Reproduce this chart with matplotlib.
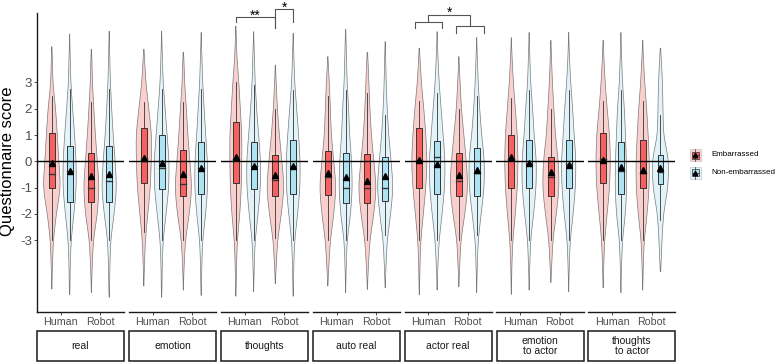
import numpy as np
import matplotlib
matplotlib.use('Agg')
import matplotlib.pyplot as plt
from matplotlib.patches import Rectangle, Polygon

plt.rcParams['font.family'] = ['Liberation Sans', 'DejaVu Sans']

# ---------------- data ----------------
facets = ['real', 'emotion', 'thoughts', 'auto real', 'actor real',
          'emotion\nto actor', 'thoughts\nto actor']
agents = ['Human', 'Robot']
groups = ['Embarrassed', 'Non-embarrassed']

# per facet: [Human-Emb, Human-NonEmb, Robot-Emb, Robot-NonEmb]
q1 = [[-1.00, -1.56, -1.56, -1.56],
      [-0.81, -1.06, -1.32, -1.25],
      [-0.81, -1.06, -1.32, -1.25],
      [-1.28, -1.57, -1.57, -1.51],
      [-1.00, -1.25, -1.32, -1.32],
      [-1.00, -1.00, -1.32, -1.00],
      [-0.81, -1.25, -1.00, -0.87]]
med = [[-0.48, -0.37, -1.00, -0.74],
       [0.10, -0.25, -0.87, -0.25],
       [0.10, -0.18, -0.71, -0.18],
       [-0.58, -1.00, -1.00, -1.00],
       [0.05, 0.15, -0.74, -0.46],
       [0.07, -0.10, -0.61, -0.10],
       [0.10, -0.37, -0.46, -0.40]]
q3 = [[1.06, 0.58, 0.30, 0.58],
      [1.25, 1.00, 0.44, 0.74],
      [1.50, 0.75, 0.24, 0.81],
      [0.39, 0.33, 0.27, 0.18],
      [1.25, 0.77, 0.30, 0.49],
      [1.00, 0.81, 0.18, 0.81],
      [1.06, 0.75, 0.81, 0.24]]
means = [[-0.08, -0.38, -0.56, -0.50],
         [0.13, -0.05, -0.47, -0.25],
         [0.17, -0.18, -0.52, -0.18],
         [-0.46, -0.61, -0.75, -0.56],
         [0.05, -0.12, -0.52, -0.33],
         [0.17, -0.08, -0.40, -0.14],
         [0.05, -0.23, -0.33, -0.24]]
whisk_lo = [[-3.0, -3.0, -3.0, -3.0],
            [-2.7, -3.0, -3.0, -3.0],
            [-3.0, -3.0, -2.9, -3.0],
            [-3.0, -3.0, -3.0, -2.8],
            [-3.0, -3.0, -3.0, -2.8],
            [-3.0, -3.0, -3.0, -3.0],
            [-3.0, -3.0, -3.0, -2.23]]
whisk_hi = [[2.5, 2.75, 2.25, 2.75],
            [2.25, 2.75, 2.25, 2.75],
            [3.0, 2.9, 2.0, 2.7],
            [2.5, 2.7, 2.6, 1.76],
            [2.3, 2.6, 2.0, 2.5],
            [2.4, 2.7, 2.0, 2.7],
            [2.3, 2.7, 2.3, 1.76]]
viol_min = [[-4.86, -5.07, -4.99, -5.17],
            [-4.74, -5.17, -4.90, -5.10],
            [-5.13, -4.96, -4.66, -5.13],
            [-4.74, -5.00, -4.87, -4.81],
            [-5.08, -4.90, -4.77, -5.00],
            [-5.06, -4.90, -4.61, -4.96],
            [-4.81, -5.00, -4.90, -4.20]]
viol_max = [[4.36, 4.84, 4.26, 4.95],
            [4.26, 4.95, 4.15, 4.90],
            [5.14, 4.93, 3.66, 4.87],
            [3.98, 5.02, 4.14, 4.55],
            [4.30, 4.93, 3.98, 4.71],
            [4.70, 4.90, 4.60, 4.90],
            [4.60, 4.90, 4.60, 4.30]]
# violin half-widths (relative) at score levels -5..5
levels = [-5, -4, -3, -2, -1, 0, 1, 2, 3, 4, 5]
viol_w = [
    [[0.1, 0.6, 1.5, 4.5, 8.8, 7.0, 5.5, 3.8, 1.0, 0.5, 0.1],
     [0.3, 0.6, 1.5, 4.3, 6.7, 6.5, 5.0, 3.0, 1.2, 0.6, 0.1],
     [0.2, 0.8, 2.0, 6.0, 7.8, 6.0, 4.0, 2.5, 1.0, 0.5, 0.1],
     [0.3, 0.7, 1.5, 5.0, 7.5, 6.0, 4.0, 2.5, 1.2, 0.6, 0.3]],
    [[0.1, 0.6, 1.5, 4.0, 6.5, 7.5, 7.8, 5.0, 2.0, 0.6, 0.1],
     [0.3, 0.6, 1.5, 4.5, 7.2, 7.5, 5.5, 3.5, 1.5, 0.7, 0.2],
     [0.1, 0.7, 2.0, 6.0, 8.5, 6.5, 4.5, 3.0, 1.2, 0.5, 0.1],
     [0.3, 0.6, 1.5, 4.5, 6.5, 6.3, 4.5, 3.0, 1.5, 0.7, 0.2]],
    [[0.3, 0.6, 1.5, 4.0, 5.5, 6.0, 6.0, 4.5, 3.0, 1.0, 0.3],
     [0.2, 0.6, 1.5, 4.5, 6.8, 7.0, 5.0, 3.0, 1.5, 0.8, 0.2],
     [0.1, 0.8, 2.2, 6.0, 8.8, 6.5, 4.0, 2.0, 0.8, 0.1, 0.1],
     [0.3, 0.6, 1.5, 4.5, 6.8, 7.0, 5.5, 3.5, 1.5, 0.7, 0.2]],
    [[0.1, 1.0, 2.5, 6.0, 8.3, 6.0, 3.5, 2.5, 1.5, 0.3, 0.1],
     [0.2, 0.6, 1.5, 5.0, 6.7, 6.0, 4.0, 3.0, 1.5, 0.8, 0.2],
     [0.1, 1.0, 2.5, 6.5, 9.0, 6.5, 4.0, 2.5, 1.5, 0.5, 0.1],
     [0.1, 0.8, 2.0, 5.5, 8.0, 6.0, 3.5, 2.0, 1.0, 0.5, 0.1]],
    [[0.2, 0.6, 1.5, 4.0, 6.5, 7.8, 6.5, 4.5, 2.0, 0.6, 0.1],
     [0.1, 0.7, 2.0, 5.0, 7.5, 8.0, 6.0, 4.0, 2.0, 0.8, 0.2],
     [0.1, 0.8, 2.0, 6.0, 9.0, 7.5, 5.0, 2.5, 1.2, 0.3, 0.1],
     [0.2, 0.6, 1.5, 4.5, 7.5, 7.8, 5.0, 3.0, 1.5, 0.6, 0.1]],
    [[0.2, 0.5, 1.5, 4.0, 6.0, 6.7, 6.0, 4.0, 2.0, 0.7, 0.1],
     [0.1, 0.6, 1.5, 4.5, 7.0, 7.3, 5.0, 3.5, 1.5, 0.7, 0.2],
     [0.1, 0.8, 2.0, 5.5, 8.3, 7.5, 4.5, 3.0, 1.5, 0.6, 0.1],
     [0.1, 0.6, 1.5, 4.5, 6.8, 7.3, 5.5, 4.0, 2.0, 0.7, 0.2]],
    [[0.1, 0.6, 1.5, 4.0, 6.5, 7.3, 6.5, 4.0, 2.0, 0.7, 0.1],
     [0.2, 0.6, 1.5, 4.5, 5.8, 5.5, 4.5, 3.5, 1.5, 0.7, 0.2],
     [0.1, 0.6, 1.5, 4.5, 6.5, 6.7, 5.5, 4.0, 2.0, 0.7, 0.1],
     [0.1, 0.5, 1.5, 3.0, 7.5, 8.5, 3.0, 2.5, 2.0, 0.7, 0.1]],
]

yticks = [-3, -2, -1, 0, 1, 2, 3]

# ---------------- style ----------------
W, H = 776, 362
box_fill = {'Embarrassed': '#F7605E', 'Non-embarrassed': '#ADE3F3'}
viol_fill = {'Embarrassed': '#F9D0CE', 'Non-embarrassed': '#E2F4FA'}
edge_col = '#333333'
viol_edge = '#7A7A7A'
tick_col = '#4D4D4D'

panel_left = [37, 129, 221, 313, 404.5, 496.5, 588.3]
panel_w = 87
ax_top, ax_bot = 13, 311.5
YMIN, YMAX = (161.3 - ax_bot) / 26.3, (161.3 - ax_top) / 26.3
px_per_unit = panel_w / 2.2
dodge = 0.225
box_hw = 0.075

fig = plt.figure(figsize=(W / 100, H / 100), dpi=100)


def fx(px):
    return px / W


def fy(py):
    return 1 - py / H


axes = []
for i, fname in enumerate(facets):
    ax = fig.add_axes([fx(panel_left[i]), fy(ax_bot), panel_w / W, (ax_bot - ax_top) / H])
    ax.set_xlim(0.4, 2.6)
    ax.set_ylim(YMIN, YMAX)
    for s in ['top', 'right']:
        ax.spines[s].set_visible(False)
    ax.spines['bottom'].set_linewidth(1.0)
    ax.spines['bottom'].set_color('#1A1A1A')
    if i == 0:
        ax.spines['left'].set_linewidth(1.0)
        ax.spines['left'].set_color('#1A1A1A')
        ax.set_yticks(yticks)
        ax.set_yticklabels([str(t) for t in yticks], fontsize=9.5, color=tick_col)
        ax.tick_params(axis='y', length=2, width=0.6, color='#333333', pad=1.5)
    else:
        ax.spines['left'].set_visible(False)
        ax.set_yticks([])
    ax.set_xticks([1, 2])
    ax.set_xticklabels(agents, fontsize=7.7, color=tick_col)
    ax.tick_params(axis='x', length=2.5, width=0.6, color='#333333', pad=1.5)
    ax.patch.set_alpha(0)

    k = 0
    for a, agent in enumerate(agents):
        for g, grp in enumerate(groups):
            xc = (a + 1) + (-dodge if g == 0 else dodge)
            vmin, vmax = viol_min[i][k], viol_max[i][k]
            yy = np.linspace(vmin, vmax, 400)
            xp = [vmin] + [l for l in levels if vmin < l < vmax] + [vmax]
            fp = [0.0] + [viol_w[i][k][j] for j, l in enumerate(levels) if vmin < l < vmax] + [0.0]
            w = np.interp(yy, xp, fp)
            dy = yy[1] - yy[0]
            sig = 0.3 / dy
            kx = np.arange(-int(3 * sig), int(3 * sig) + 1)
            ker = np.exp(-0.5 * (kx / sig) ** 2)
            ker /= ker.sum()
            w = np.convolve(np.pad(w, len(kx) // 2, mode='constant'), ker, mode='valid')
            w = w / px_per_unit
            poly_x = np.concatenate([xc - w, (xc + w)[::-1]])
            poly_y = np.concatenate([yy, yy[::-1]])
            ax.add_patch(Polygon(np.column_stack([poly_x, poly_y]), closed=True,
                                 facecolor=viol_fill[grp], edgecolor=viol_edge,
                                 linewidth=0.5, zorder=1))
            # whiskers
            ax.plot([xc, xc], [whisk_lo[i][k], q1[i][k]], color=edge_col, lw=0.6, zorder=2)
            ax.plot([xc, xc], [q3[i][k], whisk_hi[i][k]], color=edge_col, lw=0.6, zorder=2)
            ax.add_patch(Rectangle((xc - box_hw, q1[i][k]), 2 * box_hw, q3[i][k] - q1[i][k],
                                   facecolor=box_fill[grp], edgecolor=edge_col,
                                   linewidth=0.7, zorder=2))
            ax.plot([xc - box_hw, xc + box_hw], [med[i][k], med[i][k]], color=edge_col,
                    lw=1.0, zorder=2.5)
            ax.plot([xc], [means[i][k]], marker='^', color='black', markersize=4.2,
                    zorder=4, linestyle='none')
            k += 1
    ax.axhline(0, color='black', lw=1.0, zorder=3)
    axes.append(ax)

# ---------------- significance brackets ----------------
brk_col = '#555555'


def yd(py):
    return (161.3 - py) / 26.3


def bracket(ax, x1, x2, ytop, yl1, yl2):
    ax.plot([x1, x1, x2, x2], [yl1, ytop, ytop, yl2], color=brk_col, lw=0.8,
            clip_on=False, zorder=5)


ax3 = axes[2]
bracket(ax3, 1 - dodge, 2 - dodge, yd(17.3), yd(21.7), yd(28.3))
ax3.text(1.5 - dodge, yd(9.0), '**', ha='center', va='top', fontsize=10, clip_on=False)
bracket(ax3, 2 - dodge, 2 + dodge, yd(9.3), yd(28.3), yd(21.7))
ax3.text(2.0, yd(0.6), '*', ha='center', va='top', fontsize=10, clip_on=False)

ax5 = axes[4]
bracket(ax5, 1 - 0.34, 1 + 0.34, yd(22.3), yd(28.3), yd(28.3))
bracket(ax5, 2 - 0.31, 2 + 0.41, yd(26.0), yd(33.3), yd(33.3))
bracket(ax5, 1.0, 2.05, yd(15.0), yd(22.3), yd(26.0))
ax5.text(1.55, yd(5.5), '*', ha='center', va='top', fontsize=10, clip_on=False)

# ---------------- strips ----------------
ov = fig.add_axes([0, 0, 1, 1])
ov.set_xlim(0, W)
ov.set_ylim(H, 0)
ov.axis('off')
ov.patch.set_alpha(0)
for i, fname in enumerate(facets):
    ov.add_patch(Rectangle((panel_left[i], 330.7), panel_w, 30.5, facecolor='white',
                           edgecolor='#1A1A1A', linewidth=1.1))
    ov.text(panel_left[i] + panel_w / 2, 346, fname, ha='center', va='center',
            fontsize=7.5, color='#1A1A1A', linespacing=0.95)

# y label
ov.text(8, 161, 'Questionnaire score', rotation=90, ha='center', va='center',
        fontsize=12, color='black')

# ---------------- legend ----------------
key_y = [149, 166.7]
for g, grp in enumerate(groups):
    y0 = key_y[g]
    ov.add_patch(Rectangle((690, y0), 10.7, 12, facecolor=viol_fill[grp],
                           edgecolor='#BBBBBB', linewidth=0.4))
    ov.add_patch(Rectangle((691.5, y0 + 2.5), 7.7, 7, facecolor=box_fill[grp],
                           edgecolor=edge_col, linewidth=0.5))
    ov.plot([695.35, 695.35], [y0, y0 + 12], color=edge_col, lw=0.5)
    ov.plot([691.5, 699.2], [y0 + 6, y0 + 6], color=edge_col, lw=0.6)
    ov.plot([695.35], [y0 + 6.2], marker='^', color='black', markersize=3.2)
    ov.text(711, y0 + 6, grp, ha='left', va='center', fontsize=5.8, color='black')

fig.savefig('out.png', dpi=100)
